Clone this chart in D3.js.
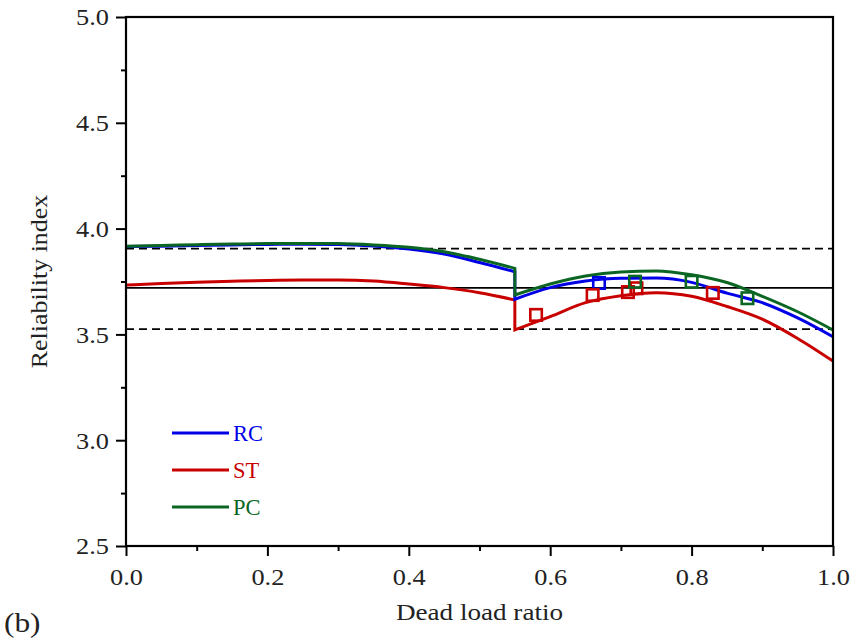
<!DOCTYPE html>
<html><head><meta charset="utf-8">
<script src="https://cdn.jsdelivr.net/npm/d3@7"></script>
<style>body{margin:0;background:#fff;} text{font-family:"Liberation Serif","Times New Roman",serif;}</style>
</head><body>
<svg id="chart" width="850" height="638"></svg>
<script>
// ---- data ----
const xLeft = [0, 0.05, 0.1, 0.15, 0.2, 0.25, 0.3, 0.35, 0.4, 0.45, 0.5, 0.55];
const xRight = [0.55, 0.6, 0.65, 0.7, 0.75, 0.8, 0.85, 0.9, 0.95, 1.0];

const rcLeft  = [3.915, 3.917, 3.920, 3.923, 3.925, 3.926, 3.925, 3.918, 3.904, 3.880, 3.840, 3.796];
const rcRight = [3.666, 3.721, 3.752, 3.765, 3.766, 3.746, 3.695, 3.650, 3.578, 3.489];

const stLeft  = [3.733, 3.740, 3.746, 3.751, 3.755, 3.757, 3.757, 3.752, 3.738, 3.721, 3.697, 3.663];
const stRight = [3.521, 3.584, 3.650, 3.683, 3.697, 3.680, 3.632, 3.572, 3.481, 3.374];

const pcLeft  = [3.917, 3.920, 3.924, 3.927, 3.929, 3.930, 3.929, 3.923, 3.912, 3.891, 3.855, 3.812];
const pcRight = [3.686, 3.738, 3.776, 3.795, 3.800, 3.782, 3.745, 3.680, 3.607, 3.521];

const rcMarkX = [0.669];
const rcMarkY = [3.743];
const stMarkX = [0.58, 0.66, 0.71, 0.722, 0.83];
const stMarkY = [3.592, 3.686, 3.700, 3.718, 3.696];
const pcMarkX = [0.72, 0.80, 0.879];
const pcMarkY = [3.749, 3.749, 3.671];

const refSolid = [3.72];
const refDashed = [3.905, 3.525];

const seriesNames = ["RC", "ST", "PC"];
const seriesColors = ["#0000e6", "#c80000", "#0b6623"];

const xTicks = [0, 0.2, 0.4, 0.6, 0.8, 1.0];
const xMinor = [0.1, 0.3, 0.5, 0.7, 0.9];
const yTicks = [2.5, 3.0, 3.5, 4.0, 4.5, 5.0];
const yMinor = [2.75, 3.25, 3.75, 4.25, 4.75];

// ---- layout ----
const svg = d3.select("#chart");
const L = 126, R = 833, T = 17, B = 546;
const x = d3.scaleLinear().domain([0, 1]).range([L, R]);
const y = d3.scaleLinear().domain([2.5, 5.0]).range([B, T]);

const plot = svg.append("g");

// reference lines
refSolid.forEach(v => plot.append("line").attr("x1", L).attr("x2", R).attr("y1", y(v)).attr("y2", y(v))
  .attr("stroke", "#000").attr("stroke-width", 1.8));
refDashed.forEach(v => plot.append("line").attr("x1", L).attr("x2", R).attr("y1", y(v)).attr("y2", y(v))
  .attr("stroke", "#000").attr("stroke-width", 1.8).attr("stroke-dasharray", "8,5"));

const line = d3.line().x(d => x(d[0])).y(d => y(d[1])).curve(d3.curveMonotoneX);
function pathFor(xl, yl, xr, yr) {
  const a = line(xl.map((v, i) => [v, yl[i]]));
  const b = line(xr.map((v, i) => [v, yr[i]]));
  return a + "L" + b.slice(1);
}
const curves = [
  pathFor(xLeft, rcLeft, xRight, rcRight),
  pathFor(xLeft, stLeft, xRight, stRight),
  pathFor(xLeft, pcLeft, xRight, pcRight)
];
[1, 0, 2].forEach(i => {
  plot.append("path").attr("d", curves[i]).attr("fill", "none")
    .attr("stroke", seriesColors[i]).attr("stroke-width", 3).attr("stroke-linejoin", "miter");
});

// markers
const marks = [[rcMarkX, rcMarkY], [stMarkX, stMarkY], [pcMarkX, pcMarkY]];
const ms = 11.5;
marks.forEach((m, i) => {
  m[0].forEach((xv, j) => {
    plot.append("rect").attr("x", x(xv) - ms / 2).attr("y", y(m[1][j]) - ms / 2)
      .attr("width", ms).attr("height", ms).attr("fill", "none")
      .attr("stroke", seriesColors[i]).attr("stroke-width", 2.6);
  });
});

// frame
svg.append("rect").attr("x", L).attr("y", T).attr("width", R - L).attr("height", B - T)
  .attr("fill", "none").attr("stroke", "#000").attr("stroke-width", 2.2);

// axes
const xAxis = svg.append("g").attr("transform", `translate(0,${B})`)
  .call(d3.axisBottom(x).tickValues(xTicks).tickFormat(d3.format(".1f")).tickSize(10).tickSizeOuter(0));
const xAxisMinor = svg.append("g").attr("transform", `translate(0,${B})`)
  .call(d3.axisBottom(x).tickValues(xMinor).tickFormat("").tickSize(5).tickSizeOuter(0));
const yAxis = svg.append("g").attr("transform", `translate(${L},0)`)
  .call(d3.axisLeft(y).tickValues(yTicks).tickFormat(d3.format(".1f")).tickSize(10).tickSizeOuter(0));
const yAxisMinor = svg.append("g").attr("transform", `translate(${L},0)`)
  .call(d3.axisLeft(y).tickValues(yMinor).tickFormat("").tickSize(5).tickSizeOuter(0));
[xAxis, xAxisMinor, yAxis, yAxisMinor].forEach(g => {
  g.select(".domain").remove();
  g.selectAll(".tick line").attr("stroke", "#000").attr("stroke-width", 2);
  g.selectAll(".tick text").attr("fill", "#222").style("font-size", "22.5px");
});
xAxis.selectAll(".tick text").attr("dy", "0").attr("x", 0).attr("y", 0)
  .attr("transform", "translate(0,39) scale(1.17,1)");
yAxis.selectAll(".tick text").attr("x", 0).attr("dy", "0.35em")
  .attr("transform", "translate(-17,0) scale(1.17,1)");

// titles
svg.append("text").attr("text-anchor", "middle")
  .attr("transform", `translate(${(L + R) / 2},620) scale(1.13,1)`)
  .style("font-size", "24px").attr("fill", "#222").text("Dead load ratio");
svg.append("text").attr("transform", `translate(47,${(T + B) / 2}) rotate(-90) scale(1.08,1)`)
  .attr("text-anchor", "middle").style("font-size", "24px").attr("fill", "#222").text("Reliability index");
svg.append("text").attr("transform", "translate(4,632) scale(1.12,1)")
  .style("font-size", "28px").attr("fill", "#222").text("(b)");

// legend
const legY = [433, 470, 507];
seriesNames.forEach((n, i) => {
  svg.append("line").attr("x1", 172).attr("x2", 229).attr("y1", legY[i]).attr("y2", legY[i])
    .attr("stroke", seriesColors[i]).attr("stroke-width", 3);
  svg.append("text").attr("x", 233).attr("y", legY[i]).attr("dy", "0.35em")
    .style("font-size", "22.5px").attr("fill", seriesColors[i]).text(n);
});
</script>
</body></html>
